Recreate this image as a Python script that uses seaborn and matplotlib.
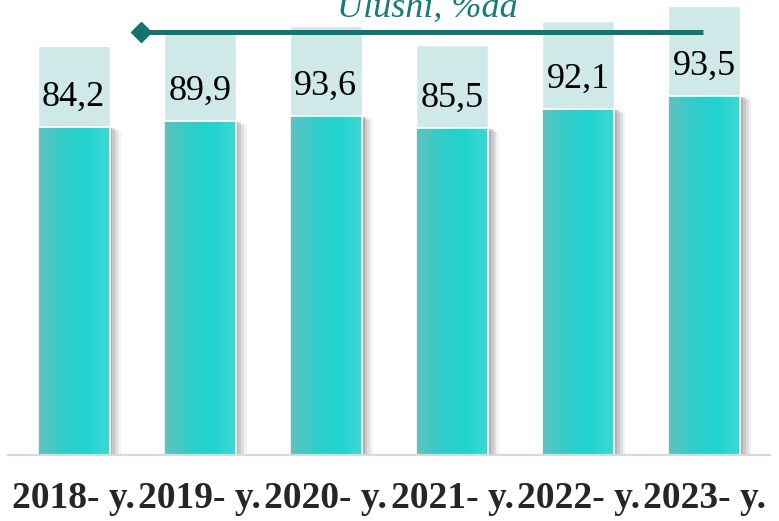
import numpy as np
import pandas as pd
import matplotlib
matplotlib.use("Agg")
import matplotlib.pyplot as plt
import matplotlib.patheffects as pe
from matplotlib.colors import LinearSegmentedColormap
import seaborn as sns

# Data
years = ["2018- y.", "2019- y.", "2020- y.", "2021- y.", "2022- y.", "2023- y."]
shares = [84.2, 89.9, 93.6, 85.5, 92.1, 93.5]          # labels, %
bar_main = [328, 334, 339, 327, 346, 359]             # solid bar height (est.)
bar_total = [409, 425, 429, 410, 434, 449]            # pale bar top (est.)

df = pd.DataFrame({"year": years, "share": shares,
                   "main": bar_main, "total": bar_total})

sns.set_style("white")
plt.rcParams["font.family"] = ["Liberation Serif", "DejaVu Serif"]

fig = plt.figure(figsize=(7.79, 5.21), dpi=100)
ax = fig.add_axes([8 / 779, 66 / 521, 762 / 779, 455 / 521])

bw = 0.57
# pale background boxes
sns.barplot(data=df, x="year", y="total", color="#cfe9e9", width=bw,
            saturation=1, ax=ax)
n_pale = len(ax.patches)
# solid bars
sns.barplot(data=df, x="year", y="main", color="#3ccac6", width=bw,
            saturation=1, ax=ax)

ax.set_ylim(0, 455)
ax.set_xlim(-0.52, 5.52)

cmap = LinearSegmentedColormap.from_list("teal", ["#5ec3bf", "#34ccc8", "#1ed4d0", "#3fd6d2"])
grad = np.linspace(0, 1, 64).reshape(1, -1)

# soft shadow to the right / below of the solid bars
shadow = [
    pe.SimplePatchShadow(offset=(8, -3), shadow_rgbFace="#c0c0c0", alpha=0.2),
    pe.SimplePatchShadow(offset=(6, -2), shadow_rgbFace="#b0b0b0", alpha=0.3),
    pe.SimplePatchShadow(offset=(4, -1), shadow_rgbFace="#a0a0a0", alpha=0.35),
    pe.SimplePatchShadow(offset=(2, -1), shadow_rgbFace="#909090", alpha=0.4),
    pe.Normal(),
]

for p in ax.patches[n_pale:]:
    p.set_edgecolor("white")
    p.set_linewidth(1.2)
    p.set_path_effects(shadow)
    x0, y0 = p.get_x(), p.get_y()
    w, h = p.get_width(), p.get_height()
    im = ax.imshow(grad, cmap=cmap, aspect="auto",
                   extent=[x0, x0 + w, y0, y0 + h], zorder=p.get_zorder() + 0.1)
    im.set_clip_path(p)
    # redraw white edge on top of gradient
    ax.bar(x0 + w / 2, h, width=w, bottom=y0, fill=False,
           edgecolor="white", linewidth=1.2, zorder=p.get_zorder() + 0.2)

# value labels a fixed distance above each solid bar
for i, row in df.iterrows():
    ax.annotate(f"{row['share']:.1f}".replace(".", ","),
                xy=(i, row["main"]), xytext=(0, 30), textcoords="offset pixels",
                ha="center", va="center", fontsize=26, color="black", zorder=5)

# arrow line and caption
ax.plot([0.173, 0.912], [0.93, 0.93], transform=ax.transAxes,
        color="#14746f", lw=3.6, solid_capstyle="butt", clip_on=False, zorder=6)
ax.plot([0.175], [0.93], transform=ax.transAxes, marker="D", ms=10,
        color="#14746f", clip_on=False, zorder=6)
ax.text(0.551, 0.9626, "Ulushi, %da", transform=ax.transAxes, ha="center",
        va="baseline", fontsize=26, style="italic", color="#1a7a75",
        clip_on=False, zorder=6)

ax.set_xlabel("")
ax.set_ylabel("")
ax.set_yticks([])
ax.tick_params(axis="x", length=0, pad=19)
for lab in ax.get_xticklabels():
    lab.set_fontweight("bold")
    lab.set_fontsize(27)
for s in ["top", "left", "right"]:
    ax.spines[s].set_visible(False)
ax.spines["bottom"].set_color("#d9d9d9")
ax.spines["bottom"].set_linewidth(1.6)

fig.savefig("out.png", dpi=100)
